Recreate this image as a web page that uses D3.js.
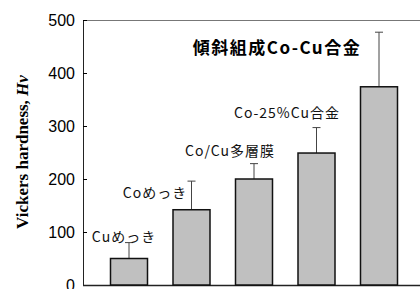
<!DOCTYPE html>
<meta charset="utf-8">
<style>
    body { margin: 0; background: #fff; }
    .tick text { font-family: Arial, "Liberation Sans", sans-serif; font-size: 16px; fill: #000; }
    .note { font-family: "Noto Sans CJK JP", sans-serif; font-size: 14px; letter-spacing: 1px; fill: #111; }
    .title { font-family: "Noto Sans CJK JP", sans-serif; font-size: 17px; letter-spacing: 1.5px; font-weight: bold; fill: #000; }
</style>
<svg width="420" height="289"></svg>
<script src="https://d3js.org/d3.v7.min.js"></script>
<script>

    var categories = ["Cuめっき", "Coめっき", "Co/Cu多層膜", "Co-25%Cu合金", "傾斜組成Co-Cu合金"];
    var hardness = [50, 142, 200, 249, 374];
    var errorTop = [80, 196, 229, 297, 477];
    var yTicks = [0, 100, 200, 300, 400, 500];

    // where each annotation sits (pixels), kept apart from the data
    var notePos = [
        {x: 124, y: 242, cls: "note"},
        {x: 155, y: 198, cls: "note"},
        {x: 230, y: 156, cls: "note"},
        {x: 287, y: 118, cls: "note"},
        {x: 277, y: 54, cls: "title"}
    ];

    var svg = d3.select("svg"),
        mLeft = 83, mTop = 20, mBottom = 285, mRight = 420;

    var x = d3.scalePoint().domain(categories).range([129, 379]);
    var y = d3.scaleLinear().domain([0, 500]).range([mBottom, mTop]);
    var barW = 37;

    // top frame line
    svg.append("line")
        .attr("x1", mLeft).attr("x2", mRight)
        .attr("y1", mTop + 0.5).attr("y2", mTop + 0.5)
        .attr("stroke", "#777").attr("stroke-width", 1);

    var yAxis = svg.append("g")
        .attr("transform", "translate(" + mLeft + ",0)")
        .call(d3.axisRight(y).tickValues(yTicks).tickSize(4).tickFormat(d3.format("d")));
    yAxis.select(".domain").attr("stroke", "#222");
    yAxis.selectAll(".tick text").attr("x", -8).attr("text-anchor", "end").attr("dy", "0.35em");

    // bottom axis line
    svg.append("line")
        .attr("x1", mLeft).attr("x2", mRight)
        .attr("y1", mBottom + 0.5).attr("y2", mBottom + 0.5)
        .attr("stroke", "#222").attr("stroke-width", 1.5);

    // error bars
    var err = svg.append("g").attr("stroke", "#444").attr("stroke-width", 1);
    err.selectAll("line.v")
        .data(categories)
        .enter().append("line")
        .attr("class", "v")
        .attr("x1", function(d) { return x(d); })
        .attr("x2", function(d) { return x(d); })
        .attr("y1", function(d, i) { return y(hardness[i]); })
        .attr("y2", function(d, i) { return y(errorTop[i]); });
    err.selectAll("line.c")
        .data(categories)
        .enter().append("line")
        .attr("class", "c")
        .attr("x1", function(d) { return x(d) - 4; })
        .attr("x2", function(d) { return x(d) + 4; })
        .attr("y1", function(d, i) { return y(errorTop[i]); })
        .attr("y2", function(d, i) { return y(errorTop[i]); });

    svg.append("g")
        .selectAll("rect")
        .data(categories)
        .enter().append("rect")
        .attr("x", function(d) { return x(d) - barW / 2; })
        .attr("width", barW)
        .attr("y", function(d, i) { return y(hardness[i]); })
        .attr("height", function(d, i) { return y(0) - y(hardness[i]); })
        .attr("fill", "#c0c0c0")
        .attr("stroke", "#111")
        .attr("stroke-width", 1.5);

    svg.append("g")
        .selectAll("text")
        .data(categories)
        .enter().append("text")
        .attr("class", function(d, i) { return notePos[i].cls; })
        .attr("x", function(d, i) { return notePos[i].x; })
        .attr("y", function(d, i) { return notePos[i].y; })
        .attr("text-anchor", "middle")
        .text(function(d) { return d; });

    var yl = svg.append("text")
        .attr("transform", "translate(28,152) rotate(-90)")
        .attr("text-anchor", "middle")
        .attr("font-family", "'Liberation Serif', 'Times New Roman', serif")
        .attr("font-weight", "bold")
        .attr("font-size", 17);
    yl.append("tspan").text("Vickers hardness, ");
    yl.append("tspan").attr("font-style", "italic").text("Hv");

</script>
